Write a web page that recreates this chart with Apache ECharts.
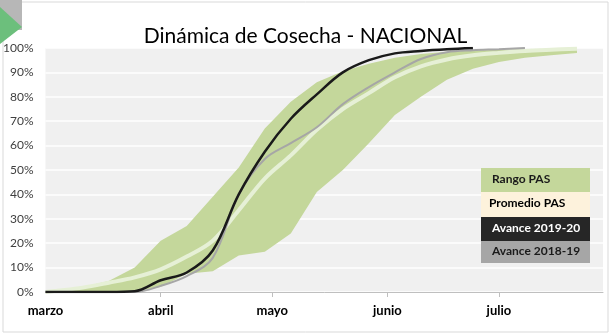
<!DOCTYPE html>
<html>
<head>
<meta charset="utf-8">
<script src="https://cdn.jsdelivr.net/npm/echarts@6/dist/echarts.min.js"></script>
<style>
  html, body { margin: 0; padding: 0; background: #fff; }
  #chart { width: 611px; height: 335px; }
</style>
</head>
<body>
<div id="chart"></div>
<script>
// Días contados desde el 1 de marzo (semana a semana)
const dias = [0, 3, 10, 17, 24, 31, 38, 45, 52, 59, 66, 73, 80, 87, 94, 101, 108, 115, 122, 129, 136, 143];
// Rango PAS: mínimo y máximo del avance (%)
const rangoMin = [0, 0, 0, 0, 0.3, 2, 7.5, 8.5, 15, 16.5, 24, 41, 50, 61, 72.5, 80, 87, 91.5, 94.3, 96, 97, 98];
const rangoMax = [0, 0.5, 2, 4.5, 10, 21, 27, 39, 51, 67, 78, 86, 90.5, 93.5, 96, 97.5, 98.5, 99, 99.3, 99.5, 99.6, 99.7];
// Promedio PAS (%)
const promedio = [0, 0.5, 1.8, 3.8, 6, 9.3, 14.5, 21, 33.5, 46.5, 56, 66.5, 75, 81.5, 88, 92.5, 95.3, 97, 98, 98.8, 99.3, 99.7];
// Avance de campañas (%)
const avance1920 = [0, 0, 0, 0, 0.3, 4.8, 8, 17, 40, 57.5, 71, 81, 90, 95, 97.8, 98.8, 99.5, 100];
const avance1819 = [0, 0, 0, 0, 0, 2.5, 6.5, 14, 40, 54.5, 61, 67.5, 77, 84, 90, 95.5, 98.3, 99.1, 99.5, 100];
// Meses del eje horizontal y su día de inicio
const meses = ['marzo', 'abril', 'mayo', 'junio', 'julio'];
const inicioMes = [0, 31, 61, 92, 122];
const ticksY = [0, 10, 20, 30, 40, 50, 60, 70, 80, 90, 100];
const nombres = ['Rango PAS', 'Promedio PAS', 'Avance 2019-20', 'Avance 2018-19'];

const FONT = 'Lato, "Open Sans", sans-serif';
const pares = (ys) => ys.map((y, i) => [dias[i], y]);

const chart = echarts.init(document.getElementById('chart'), null, { renderer: 'canvas' });

// Leyenda dibujada como cajas de color con el nombre de cada serie
const cajas = [
  { fill: '#c4d79b', text: '#1a1a1a', dx: 11 },
  { fill: '#fdf2dc', text: '#000000', dx: 8 },
  { fill: '#262626', text: '#ffffff', dx: 11 },
  { fill: '#a6a6a6', text: '#1a1a1a', dx: 11 }
];
const altos = [24, 25, 24, 22];
const leyenda = [];
let yTop = 168;
nombres.forEach((n, i) => {
  leyenda.push({
    type: 'rect', left: 481, top: yTop,
    shape: { width: 109, height: altos[i] },
    style: { fill: cajas[i].fill }, z: 10
  });
  leyenda.push({
    type: 'text', left: 481 + cajas[i].dx, top: yTop + altos[i] / 2 - 7,
    style: { text: n, fill: cajas[i].text, font: 'bold 12px ' + FONT }, z: 11
  });
  yTop += altos[i];
});

// Banda entre mínimo y máximo, trazada con las escalas de los ejes
function dibujarRango(params, api) {
  if (params.dataIndex !== 0) return null;
  const puntos = [];
  for (let i = 0; i < dias.length; i++) puntos.push(api.coord([dias[i], rangoMax[i]]));
  for (let i = dias.length - 1; i >= 0; i--) puntos.push(api.coord([dias[i], rangoMin[i]]));
  return { type: 'polygon', shape: { points: puntos }, style: { fill: '#c4d79b' } };
}

const option = {
  backgroundColor: '#ffffff',
  animation: false,
  title: {
    text: 'Dinámica de Cosecha - NACIONAL',
    left: 'center', top: 21,
    textStyle: { fontFamily: FONT, fontSize: 21, fontWeight: 'normal', color: '#000' }
  },
  grid: {
    left: 45, right: 8, top: 48, bottom: 43,
    show: true, backgroundColor: '#f0f0f0', borderWidth: 0
  },
  xAxis: {
    type: 'value', min: 0, max: 150,
    splitLine: { show: false },
    axisLine: { show: true, lineStyle: { color: '#bfbfbf', width: 1 } },
    axisTick: { show: true, customValues: inicioMes.slice(1), length: 5, lineStyle: { color: '#bfbfbf' } },
    axisLabel: {
      customValues: inicioMes,
      formatter: (v) => meses[inicioMes.indexOf(v)] || '',
      fontFamily: FONT, fontWeight: 'bold', fontSize: 13, color: '#000',
      margin: 12, align: 'center'
    }
  },
  yAxis: {
    type: 'value', min: 0, max: 100, interval: 10,
    axisLine: { show: false }, axisTick: { show: false },
    splitLine: { lineStyle: { color: '#ffffff', width: 1.5 } },
    axisLabel: {
      formatter: (v) => ticksY.includes(v) ? v + '%' : '',
      fontFamily: FONT, fontSize: 12, color: '#404040', margin: 12
    }
  },
  graphic: [
    { type: 'rect', shape: { x: 3, y: 2, width: 605, height: 330 },
      style: { fill: 'none', stroke: '#d9d9d9', lineWidth: 1 }, z: 0, silent: true },
    { type: 'rect', shape: { x: 0, y: 0, width: 22, height: 30 }, style: { fill: '#b7b7b7' }, z: 5 },
    { type: 'polygon', shape: { points: [[0, 7], [22, 27], [0, 44]] }, style: { fill: '#6cbf7c' }, z: 6 }
  ].concat(leyenda),
  series: [
    {
      name: nombres[0], type: 'custom', renderItem: dibujarRango,
      data: pares(rangoMax), clip: true, silent: true, z: 2
    },
    {
      name: nombres[1], type: 'line', data: pares(promedio), smooth: 0.35,
      symbol: 'none', lineStyle: { color: '#e6f0d6', width: 4 }, z: 3
    },
    {
      name: nombres[3], type: 'line', data: pares(avance1819), smooth: 0.35,
      symbol: 'none', lineStyle: { color: '#a6a6a6', width: 2 }, z: 4
    },
    {
      name: nombres[2], type: 'line', data: pares(avance1920), smooth: 0.35,
      symbol: 'none', lineStyle: { color: '#1a1a1a', width: 2.5 }, z: 5
    }
  ]
};
chart.setOption(option);
</script>
</body>
</html>
